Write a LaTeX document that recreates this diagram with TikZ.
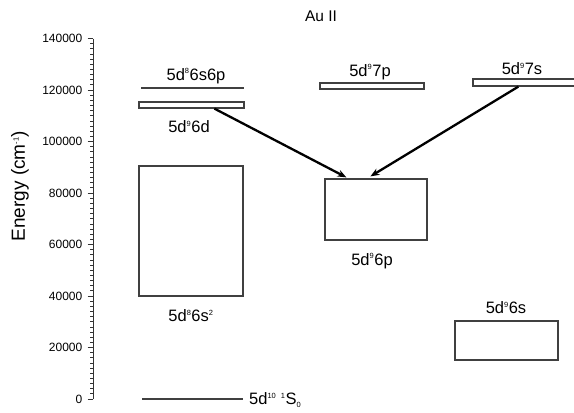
\documentclass[tikz,border=0pt]{standalone}
\usepackage{fontspec}
\setmainfont{Liberation Sans}
\usetikzlibrary{calc,arrows.meta}
\newcommand{\spx}[1]{\textsuperscript{\fontsize{7.5}{7.5}\selectfont #1}}
\begin{document}
\begin{tikzpicture}[x=1pt,y=-1pt,
  lvl/.style={draw=black!75, line width=1.2pt, rectangle, inner sep=0pt, fill=white},
  lvlline/.style={draw=black!75, line width=1.2pt},
  lab/.style={font=\fontsize{16.5}{16.5}\selectfont, inner sep=0pt},
  ticklab/.style={font=\fontsize{12}{12}\selectfont, anchor=east, inner sep=0pt},
  trans/.style={draw=black, line width=2.3pt, -{Stealth[length=9pt,width=7pt]}},
  axisline/.style={draw=black!80, line width=1pt}]
\useasboundingbox (0,0) rectangle (574,413);
\clip (0,0) rectangle (574,413);
% axis
\draw[axisline] (93,38.5) -- (93,399);
\foreach \k/\val in {0/0,1/20000,2/40000,3/60000,4/80000,5/100000,6/120000,7/140000}{
  \draw[axisline] (87.5,{399-\k*51.5}) -- (93,{399-\k*51.5});
  \node[ticklab] at (82.5,{399-\k*51.5}) {\val};
}
\foreach \m in {1,...,69}{
  \draw[axisline, line width=0.8pt] (90.3,{399-\m*5.15}) -- (93,{399-\m*5.15});
}
\node[font=\fontsize{19}{19}\selectfont, rotate=90, inner sep=0pt] (ylab) at (20,186) {Energy (cm\spx{-1})};
\node[font=\fontsize{15.5}{15.5}\selectfont, inner sep=0pt] (title) at (321,16) {Au II};
% levels
\node[lvl, minimum width=104pt, minimum height=130pt] (s2) at (191,231) {};
\node[lvl, minimum width=105pt, minimum height=6pt] (d6) at (191.5,105) {};
\node[lvl, minimum width=104pt, minimum height=6pt] (p7) at (372,86) {};
\node[lvl, minimum width=104pt, minimum height=7pt] (s7) at (525,82.5) {};
\node[lvl, minimum width=102pt, minimum height=61pt] (p6) at (376,209.5) {};
\node[lvl, minimum width=103pt, minimum height=39pt] (s6) at (506.5,340.5) {};
\coordinate (sp1) at (141,88);
\coordinate (sp2) at (244,88);
\draw[lvlline] (sp1) -- (sp2);
\coordinate (g1) at (142,399);
\coordinate (g2) at (243,399);
\draw[lvlline] (g1) -- (g2);
% labels
\node[lab] (lsp) at (196,76) {5d\spx{8}6s6p};
\node[lab] (ld6) at (189,127) {5d\spx{9}6d};
\node[lab] (ls2) at (191,316) {5d\spx{8}6s\spx{2}};
\node[lab] (lp7) at (370,72) {5d\spx{9}7p};
\node[lab] (ls7) at (522,69) {5d\spx{9}7s};
\node[lab] (lp6) at (372,261) {5d\spx{9}6p};
\node[lab] (ls6) at (506,308) {5d\spx{9}6s};
\node[lab, anchor=west] (lg) at (249,400) {5d\spx{10} \spx{1}S\textsubscript{\fontsize{7.5}{7.5}\selectfont 0}};
% transitions
\draw[trans] ($(d6.south west)+(76,0)$) -- ($(p6.north west)+(22,-1)$);
\draw[trans] ($(s7.south west)+(46,0)$) -- ($(p6.north west)+(46,-2)$);
\end{tikzpicture}
\end{document}
